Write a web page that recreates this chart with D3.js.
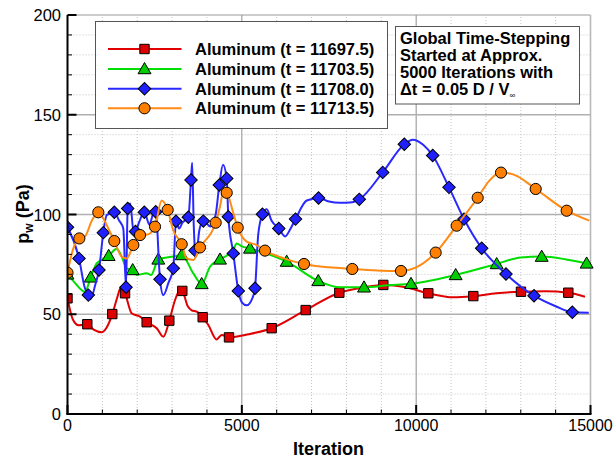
<!DOCTYPE html>
<html>
<head>
<meta charset="utf-8">
<script src="https://cdn.jsdelivr.net/npm/d3@7"></script>
<style>
  html, body { margin: 0; padding: 0; background: #fff; }
  svg { display: block; font-family: "Liberation Sans", Arial, Helvetica, sans-serif; }
</style>
</head>
<body>
<svg id="chart" width="613" height="461"></svg>
<script>
// ---- axis ticks ----
const xMajorTicks = [0, 5000, 10000, 15000];
const yMajorTicks = [0, 50, 100, 150, 200];

// ---- series labels ----
const seriesLabels = [
  "Aluminum (t = 11697.5)",
  "Aluminum (t = 11703.5)",
  "Aluminum (t = 11708.0)",
  "Aluminum (t = 11713.5)"
];

// ---- wall pressure history [iteration, p_w (Pa)] ----
// symbol points (also lie on the curve)
const redSymbols = [[0,58],[568,45],[1285,50.1],[1650,60.5],[2271,46],[2920,46.8],[3293,61.7],[3877,48.5],[4632,38.4],[5856,43],[6831,52.1],[7796,60.8],[9058,64.7],[10349,60.5],[11639,59.1],[13006,61.3],[14364,60.8]];
// additional curve points between symbols
const redCurve = [[150,47.5],[320,44.5],[750,42.3],[980,41],[1110,43],[1420,58],[1540,63.8],[1840,50.5],[2080,48.8],[2558,43],[2748,38.7],[3083,57],[3227,62.2],[3450,54],[3561,52],[3705,51.3],[4039,44.6],[4278,37.4],[4421,39.6],[5200,40],[8500,63.5],[9700,63.5],[11065,58.5],[12300,60.5],[13700,61.5],[14843,58.8]];

const greenSymbols = [[0,70],[665,68.5],[1181,79.3],[1870,72.2],[2604,77.5],[3275,79.7],[3849,65.2],[4374,77.5],[5234,83],[6286,76.4],[7193,66.7],[8504,63.5],[9852,65.3],[11133,69.7],[12309,75.2],[13600,78.9],[14890,75.5]];
const greenCurve = [[200,66],[502,61.3],[837,75.5],[980,77.2],[1411,82.8],[1550,79],[1700,73],[1985,69.7],[2271,70.5],[2400,69.7],[3035,78.9],[3608,70.5],[4087,73.8],[4755,82.2],[4852,85.5],[5000,84],[5827,79.7],[7815,63.5],[9200,64.5],[13000,78.5],[14300,77.5],[15000,75]];

const blueSymbols = [[0,93.6],[330,78],[597,59.6],[903,72.2],[1027,90.9],[1342,101.1],[1678,63.5],[1726,103],[1950,91.5],[2203,101.1],[2530,101.4],[2653,67.5],[3035,73],[3110,96.6],[3465,98.6],[3542,117.3],[3657,82],[3895,96.7],[4354,114.8],[4566,118.1],[4613,98.9],[4756,80.5],[4899,61.7],[5378,63],[5590,100.1],[6060,93],[6540,97.7],[7200,108.3],[8369,107.6],[9040,121.1],[9660,135.2],[10474,129.6],[10942,113.6],[11372,97.7],[11879,83.1],[12576,70.2],[13380,59.3],[14478,51]];
const blueCurve = [[500,63],[660,57.5],[800,65],[1124,99.7],[1480,97],[1600,93],[1800,105.5],[1890,92],[2050,96],[2350,95],[2450,100],[2748,59.6],[2900,66],[3200,93],[3300,96],[3575,126],[3620,95],[3690,79],[3780,92],[4100,94],[4250,100],[4460,125],[5000,56],[5140,54.5],[5300,58],[5470,90],[5713,102.6],[5850,97],[6238,89],[6400,93],[6861,107],[7500,106.5],[7815,105.9],[8100,106],[9900,137.5],[10200,135],[14000,54],[14950,50.8]];

const orangeSymbols = [[0,70.8],[339,88],[884,101.1],[1342,86.7],[1888,84.7],[2080,89.7],[2510,93.9],[2873,102.3],[3275,85.1],[3800,83.5],[4250,95.9],[4566,110.9],[4881,93.4],[5664,81.9],[6783,75.2],[8168,72.7],[9565,71.7],[10559,80.9],[11162,94.4],[11764,108.4],[12433,121],[13428,112.8],[14317,101.9]];
const orangeCurve = [[150,82],[500,89],[700,97],[1027,98],[1170,93],[1554,78.9],[1698,78],[2300,90],[2700,107],[3035,92],[3418,78],[3608,77.2],[4374,104],[4470,111.5],[4756,100.6],[5140,86.4],[5426,84.7],[6200,78],[7500,73.5],[9000,71.8],[10000,73.5],[12100,117],[12800,120],[14965,96.9]];

const seriesColors = ["#e00000", "#00dd00", "#2828ff", "#ff8a14"];
const symbolFills  = ["#dd0000", "#00cc00", "#2020ff", "#ff8000"];
// square, triangle, diamond (square turned 45 degrees), circle
const symbolTypes  = [d3.symbolSquare, d3.symbolTriangle, d3.symbolSquare, d3.symbolCircle];
const symbolTurns  = [0, 0, 45, 0];
const symbolSizes  = [88, 72, 78, 98];

const series = [
  { sym: redSymbols,    curve: redCurve },
  { sym: greenSymbols,  curve: greenCurve },
  { sym: blueSymbols,   curve: blueCurve },
  { sym: orangeSymbols, curve: orangeCurve }
];

// ---- layout ----
const svg = d3.select("#chart");
const x = d3.scaleLinear().domain([0, 15000]).range([67.5, 590.5]);
const y = d3.scaleLinear().domain([0, 200]).range([414, 15]);
const [x0, x1] = x.range();
const [y0, y1] = y.range();

svg.append("defs").append("clipPath").attr("id", "plotClip")
  .append("rect").attr("x", x0).attr("y", y1 - 8).attr("width", x1 - x0 + 8).attr("height", y0 - y1 + 8);

// minor grid (dotted)
const xMinor = d3.range(1000, 15000, 1000).filter(v => v % 5000 !== 0);
const yMinor = d3.range(10, 200, 10).filter(v => v % 50 !== 0);
const grid = svg.append("g");
grid.selectAll(".xm").data(xMinor).join("line")
  .attr("x1", d => x(d)).attr("x2", d => x(d)).attr("y1", y0).attr("y2", y1)
  .attr("stroke", "#c4c4c4").attr("stroke-width", 1).attr("stroke-dasharray", "1,2");
grid.selectAll(".ym").data(yMinor).join("line")
  .attr("y1", d => y(d)).attr("y2", d => y(d)).attr("x1", x0).attr("x2", x1)
  .attr("stroke", "#c4c4c4").attr("stroke-width", 1).attr("stroke-dasharray", "1,2");

// major grid
grid.selectAll(".xM").data(xMajorTicks.filter(v => v > 0 && v < 15000)).join("line")
  .attr("x1", d => x(d)).attr("x2", d => x(d)).attr("y1", y0).attr("y2", y1)
  .attr("stroke", "#8e8e8e").attr("stroke-width", 1);
grid.selectAll(".yM").data(yMajorTicks.filter(v => v > 0 && v < 200)).join("line")
  .attr("y1", d => y(d)).attr("y2", d => y(d)).attr("x1", x0).attr("x2", x1)
  .attr("stroke", "#b0b0b0").attr("stroke-width", 1.6);

// frame top & right
svg.append("line").attr("x1", x0).attr("x2", x1).attr("y1", y1).attr("y2", y1)
  .attr("stroke", "#9a9a9a").attr("stroke-width", 1);
svg.append("line").attr("x1", x1).attr("x2", x1).attr("y1", y1).attr("y2", y0)
  .attr("stroke", "#b8b8b8").attr("stroke-width", 1.6);

// ---- series ----
const line = d3.line().x(d => x(d[0])).y(d => y(d[1])).curve(d3.curveMonotoneX);
const plot = svg.append("g").attr("clip-path", "url(#plotClip)");
function symbolTransform(i, px, py) {
  const dy = symbolTypes[i] === d3.symbolTriangle ? 1 : 0;
  return `translate(${px},${py + dy}) rotate(${symbolTurns[i]})`;
}
series.forEach((s, i) => {
  const pts = s.sym.concat(s.curve).sort((a, b) => a[0] - b[0]);
  plot.append("path").datum(pts)
    .attr("fill", "none").attr("stroke", seriesColors[i]).attr("stroke-width", 2)
    .attr("stroke-linejoin", "round").attr("d", line);
  const sym = d3.symbol().type(symbolTypes[i]).size(symbolSizes[i]);
  plot.selectAll(null).data(s.sym).join("path")
    .attr("transform", d => symbolTransform(i, x(d[0]), y(d[1])))
    .attr("d", sym)
    .attr("fill", symbolFills[i]).attr("stroke", "#000").attr("stroke-width", 1);
});

// ---- axes ----
const axes = svg.append("g");
axes.append("line").attr("x1", x0).attr("x2", x0).attr("y1", y0 + 1).attr("y2", y1)
  .attr("stroke", "#000").attr("stroke-width", 2);
axes.append("line").attr("x1", x0 - 1).attr("x2", x1 + 1).attr("y1", y0).attr("y2", y0)
  .attr("stroke", "#000").attr("stroke-width", 2);

// ticks (inward)
axes.selectAll(".xt").data(xMajorTicks).join("line")
  .attr("x1", d => x(d)).attr("x2", d => x(d)).attr("y1", y0).attr("y2", y0 - 9)
  .attr("stroke", "#000").attr("stroke-width", 2);
axes.selectAll(".xtm").data(xMinor).join("line")
  .attr("x1", d => x(d)).attr("x2", d => x(d)).attr("y1", y0).attr("y2", y0 - 4.5)
  .attr("stroke", "#000").attr("stroke-width", 1);
axes.selectAll(".yt").data(yMajorTicks).join("line")
  .attr("y1", d => y(d)).attr("y2", d => y(d)).attr("x1", x0).attr("x2", x0 + 9)
  .attr("stroke", "#000").attr("stroke-width", 2);
axes.selectAll(".ytm").data(yMinor).join("line")
  .attr("y1", d => y(d)).attr("y2", d => y(d)).attr("x1", x0).attr("x2", x0 + 4.5)
  .attr("stroke", "#000").attr("stroke-width", 1);

// tick labels
axes.selectAll(".xl").data(xMajorTicks).join("text")
  .attr("x", d => x(d)).attr("y", 431).attr("text-anchor", "middle")
  .attr("font-size", 16).attr("fill", "#000").text(d => d);
axes.selectAll(".yl").data(yMajorTicks).join("text")
  .attr("x", 61).attr("y", d => y(d) + 6).attr("text-anchor", "end")
  .attr("font-size", 16.5).attr("fill", "#000").text(d => d);

// axis titles
svg.append("text").attr("x", 328.5).attr("y", 455).attr("text-anchor", "middle")
  .attr("font-size", 18).attr("font-weight", "bold").text("Iteration");
const yTitle = svg.append("text")
  .attr("transform", "translate(29,214) rotate(-90)")
  .attr("text-anchor", "middle").attr("font-size", 18).attr("font-weight", "bold");
yTitle.append("tspan").text("p");
yTitle.append("tspan").attr("font-size", 12).attr("dy", 4).text("w");
yTitle.append("tspan").attr("dy", -4).text(" (Pa)");

// ---- legend ----
const legend = svg.append("g");
legend.append("rect").attr("x", 95.5).attr("y", 21.5).attr("width", 292).attr("height", 107)
  .attr("fill", "#fff").attr("stroke", "#555").attr("stroke-width", 1);
const legendRows = [49, 69, 88.7, 108.3];
seriesLabels.forEach((lab, i) => {
  const ry = legendRows[i];
  legend.append("line").attr("x1", 108).attr("x2", 181.5).attr("y1", ry).attr("y2", ry)
    .attr("stroke", seriesColors[i]).attr("stroke-width", 2);
  legend.append("path")
    .attr("transform", symbolTransform(i, 144.5, ry))
    .attr("d", d3.symbol().type(symbolTypes[i]).size(symbolSizes[i])())
    .attr("fill", symbolFills[i]).attr("stroke", "#000").attr("stroke-width", 1);
  legend.append("text").attr("x", 195).attr("y", ry + 6)
    .attr("font-size", 16.5).attr("font-weight", "bold").attr("fill", "#000").text(lab);
});

// ---- annotation box ----
const note = svg.append("g");
note.append("rect").attr("x", 395.5).attr("y", 26.5).attr("width", 184).attr("height", 77.5)
  .attr("fill", "#fff").attr("stroke", "#555").attr("stroke-width", 1);
const noteLines = ["Global Time-Stepping", "Started at Approx.", "5000 Iterations with"];
noteLines.forEach((t, i) => {
  note.append("text").attr("x", 400).attr("y", 43.5 + i * 17)
    .attr("font-size", 16.5).attr("font-weight", "bold").text(t);
});
const last = note.append("text").attr("x", 400).attr("y", 94.5)
  .attr("font-size", 16.5).attr("font-weight", "bold");
last.append("tspan").text("\u0394t = 0.05 D / V");
last.append("tspan").attr("font-size", 8).attr("font-weight", "normal").attr("dy", 3).text("\u221E");
</script>
</body>
</html>
